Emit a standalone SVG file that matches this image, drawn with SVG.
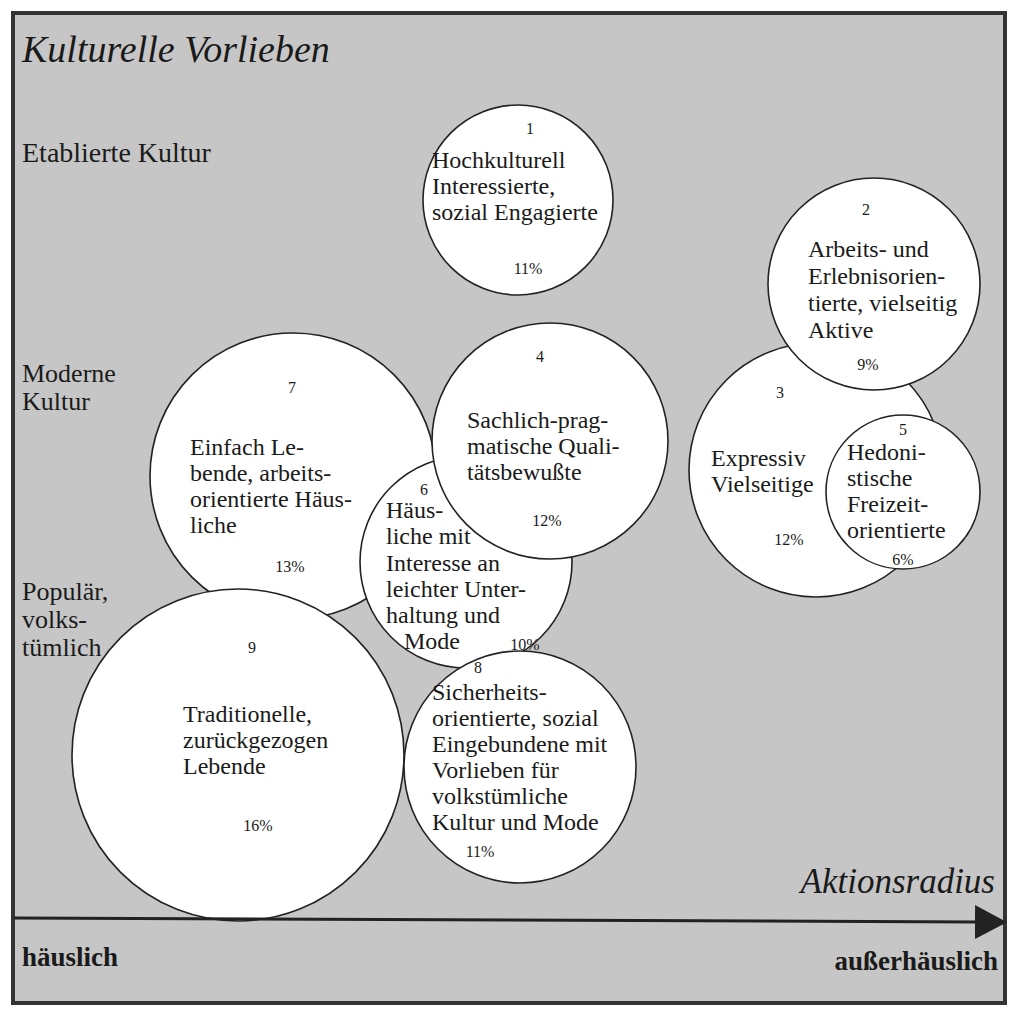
<svg xmlns="http://www.w3.org/2000/svg" width="1012" height="1015" viewBox="0 0 1012 1015">
<style>
.c{fill:#fff;stroke:#222;stroke-width:1.6}
.t{font-family:"Liberation Serif","Times New Roman",serif;font-size:24px;fill:#1a1a1a}
.n{font-family:"Liberation Serif","Times New Roman",serif;font-size:16px;fill:#1a1a1a;text-anchor:middle}
.side{font-family:"Liberation Serif","Times New Roman",serif;font-size:26px;fill:#1a1a1a}
.it{font-family:"Liberation Serif","Times New Roman",serif;font-style:italic;fill:#1a1a1a}
.ax{font-family:"Liberation Serif","Times New Roman",serif;font-size:27px;font-weight:bold;fill:#1a1a1a}
</style>
<defs>
<marker id="arr" markerWidth="32" markerHeight="34" refX="1" refY="17" orient="auto" markerUnits="userSpaceOnUse" viewBox="0 0 32 34">
<path d="M0,0 L32,17 L0,34 Z" fill="#222"/>
</marker>
</defs>
<rect x="0" y="0" width="1012" height="1015" fill="#fff"/>
<rect x="13" y="13" width="992" height="990" fill="#c6c6c6" stroke="#333" stroke-width="4"/>
<text class="it" x="22" y="62" font-size="38">Kulturelle Vorlieben</text>
<text class="side" x="22" y="162" style="font-size:28px">Etablierte Kultur</text>
<text class="side" x="22" y="382">Moderne</text>
<text class="side" x="22" y="410">Kultur</text>
<text class="side" x="22" y="600">Populär,</text>
<text class="side" x="22" y="628">volks-</text>
<text class="side" x="22" y="656">tümlich</text>

<g id="node1">
<circle class="c" cx="518" cy="200" r="95"/>
<text class="n" x="530" y="134">1</text>
<text class="t" x="432" y="168">Hochkulturell</text>
<text class="t" x="432" y="194">Interessierte,</text>
<text class="t" x="432" y="220">sozial Engagierte</text>
<text class="n" x="528" y="274">11%</text>
</g>
<g id="node7">
<circle class="c" cx="293" cy="476" r="143"/>
<text class="n" x="292" y="393">7</text>
<text class="t" x="190" y="455">Einfach Le-</text>
<text class="t" x="190" y="481">bende, arbeits-</text>
<text class="t" x="190" y="507">orientierte Häus-</text>
<text class="t" x="190" y="533">liche</text>
<text class="n" x="290" y="572">13%</text>
</g>
<g id="node9">
<circle class="c" cx="238" cy="755" r="166"/>
<text class="n" x="252" y="653">9</text>
<text class="t" x="183" y="722">Traditionelle,</text>
<text class="t" x="183" y="748">zurückgezogen</text>
<text class="t" x="183" y="774">Lebende</text>
<text class="n" x="258" y="831">16%</text>
</g>
<g id="node6">
<circle class="c" cx="466" cy="562" r="106"/>
<text class="n" x="424" y="495">6</text>
<text class="t" x="386" y="518">Häus-</text>
<text class="t" x="386" y="544">liche mit</text>
<text class="t" x="386" y="571">Interesse an</text>
<text class="t" x="386" y="597">leichter Unter-</text>
<text class="t" x="386" y="623">haltung und</text>
<text class="t" x="404" y="649">Mode</text>
<text class="n" x="525" y="650">10%</text>
</g>
<g id="node4">
<circle class="c" cx="550" cy="441" r="118"/>
<text class="n" x="540" y="362">4</text>
<text class="t" x="467" y="428">Sachlich-prag-</text>
<text class="t" x="467" y="454">matische Quali-</text>
<text class="t" x="467" y="480">tätsbewußte</text>
<text class="n" x="547" y="526">12%</text>
</g>
<g id="node8">
<circle class="c" cx="520" cy="767" r="116"/>
<text class="n" x="478" y="673">8</text>
<text class="t" x="432" y="700">Sicherheits-</text>
<text class="t" x="432" y="726">orientierte, sozial</text>
<text class="t" x="432" y="752">Eingebundene mit</text>
<text class="t" x="432" y="778">Vorlieben für</text>
<text class="t" x="432" y="804">volkstümliche</text>
<text class="t" x="432" y="830">Kultur und Mode</text>
<text class="n" x="480" y="857">11%</text>
</g>
<g id="node3">
<circle class="c" cx="816" cy="470" r="127"/>
<text class="n" x="780" y="398">3</text>
<text class="t" x="711" y="466">Expressiv</text>
<text class="t" x="711" y="492">Vielseitige</text>
<text class="n" x="789" y="545">12%</text>
</g>
<g id="node2">
<circle class="c" cx="874" cy="284" r="106"/>
<text class="n" x="866" y="215">2</text>
<text class="t" x="808" y="257">Arbeits- und</text>
<text class="t" x="808" y="284">Erlebnisorien-</text>
<text class="t" x="808" y="311">tierte, vielseitig</text>
<text class="t" x="808" y="338">Aktive</text>
<text class="n" x="868" y="370">9%</text>
</g>
<g id="node5">
<circle class="c" cx="903" cy="492" r="77"/>
<text class="n" x="903" y="435">5</text>
<text class="t" x="847" y="460">Hedoni-</text>
<text class="t" x="847" y="486">stische</text>
<text class="t" x="847" y="512">Freizeit-</text>
<text class="t" x="847" y="538">orientierte</text>
<text class="n" x="903" y="565">6%</text>
</g>

<g id="connectors">
<line x1="14" y1="918" x2="976" y2="922" stroke="#222" stroke-width="3" marker-end="url(#arr)"/>
</g>
<text class="it" x="995" y="893" font-size="35" text-anchor="end">Aktionsradius</text>
<text class="ax" x="22" y="966">häuslich</text>
<text class="ax" x="998" y="970" text-anchor="end">außerhäuslich</text>
</svg>
